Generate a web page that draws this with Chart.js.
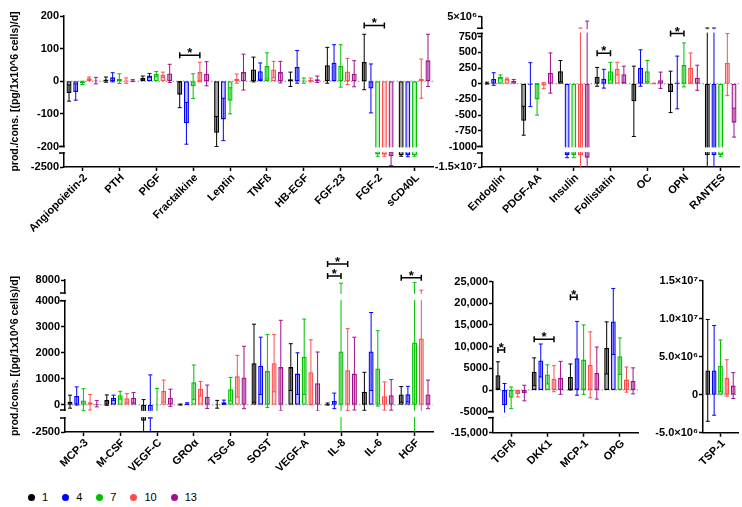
<!DOCTYPE html>
<html><head><meta charset="utf-8">
<script src="https://cdn.jsdelivr.net/npm/chart.js@4/dist/chart.umd.min.js"></script>
<style>
body{margin:0;background:#fff;width:742px;height:507px;position:relative;overflow:hidden;font-family:'Liberation Sans',Arial,sans-serif}
canvas{position:absolute}
#legend{position:absolute;left:28px;top:490px;height:14px;display:flex;align-items:center;font-size:11px;color:#000}
#legend .dot{width:7px;height:7px;border-radius:50%;display:inline-block;margin-right:7px}
#legend .txt{margin-right:14px}
</style></head><body>
<canvas id="tl"></canvas><canvas id="tr"></canvas>
<canvas id="bl"></canvas><canvas id="bm"></canvas><canvas id="br"></canvas>
<div id="legend"></div>
<script>
// ---------- DATA ----------
const seriesNames = ['1','4','7','10','13'];

// Top-left panel
const tlCategories = ['Angiopoietin-2','PTH','PlGF','Fractalkine','Leptin','TNFß','HB-EGF','FGF-23','FGF-2','sCD40L'];
const tlMean = [
  [-36, 5, 10, -41, -158, 36, 6, 49, 59, -2250],
  [-33, 12, 18, -129, -117, 31, 44, 57, -22, -2250],
  [-5, 8, 22, -15, -60, 47, 2, 47, -2230, -2250],
  [9, 2, 20, 28, 8, 36, 4, 30, -2240, 8],
  [2, 2, 24, 23, 28, 28, 6, 23, -2270, 64]
];
const tlSD = [
  [25, 8, 6, 40, 50, 38, 22, 55, 85, 20],
  [25, 14, 6, 64, 65, 25, 50, 55, 75, 30],
  [5, 15, 8, 38, 40, 40, 8, 65, 40, 20],
  [4, 8, 8, 30, 14, 25, 6, 40, 30, 60],
  [10, 3, 28, 37, 55, 33, 10, 40, 200, 80]
];
const tlTicks = [-2500, -200, -100, 0, 100, 200];
const tlTickLabels = ['-2500', '-200', '-100', '0', '100', '200'];
const tlBrackets = [{cat:3, a:0, b:3, v:80}, {cat:8, a:0, b:3, v:171}];

// Top-right panel
const trCategories = ['Endoglin','PDGF-AA','Insulin','Follistatin','OC','OPN','RANTES'];
const trMean = [
  [10, -590, 200, 110, -280, -130, -1.25e7],
  [75, -15, -1.25e7, 80, 250, 20, -1.25e7],
  [110, -250, -1.25e7, 200, 200, 300, -1.25e7],
  [75, -30, -1.25e7, 240, 5, 250, 330],
  [48, 170, -1.3e7, 150, 55, 95, -620]
];
const trSD = [
  [15, 230, 170, 150, 560, 330, 1.36e7],
  [100, 350, 5e5, 150, 290, 420, 1.36e7],
  [30, 250, 5e5, 140, 170, 350, 3e5],
  [15, 50, 1.36e7, 100, 5, 240, 520],
  [20, 320, 1.65e7, 130, 130, 200, 230]
];
const trTicks = [-1.5e7, -1000, -750, -500, -250, 0, 250, 500, 750, 5e6];
const trTickLabels = ['-1.5×10⁷','-1000','-750','-500','-250','0','250','500','750','5×10⁶'];
const trBrackets = [{cat:3, a:0, b:2, v:484}, {cat:5, a:0, b:2, v:800}];

// Bottom-left panel
const blCategories = ['MCP-3','M-CSF','VEGF-C','GROα','TSG-6','SOST','VEGF-A','IL-8','IL-6','HGF'];
const blMean = [
  [120, 180, -1700, 10, 20, 1600, 1450, 30, 500, 400],
  [340, 270, -1550, 50, 100, 1500, 1200, 150, 2050, 410],
  [170, 370, -20, 870, 600, 1300, 1850, 2050, 1400, 2400],
  [100, 250, 530, 620, 1100, 1600, 1250, 1330, 330, 2550],
  [40, 270, 270, 310, 1050, 1450, 830, 1200, 370, 400]
];
const blSD = [
  [250, 200, 1900, 20, 150, 1500, 900, 40, 750, 300],
  [350, 100, 2700, 30, 80, 1100, 800, 300, 1500, 300],
  [450, 150, 650, 660, 450, 1400, 1450, 5200, 1450, 5000],
  [300, 180, 420, 280, 800, 1100, 1250, 1600, 550, 3100],
  [120, 200, 330, 450, 1200, 1800, 1200, 1400, 600, 550]
];
const blTicks = [-2500, 0, 1000, 2000, 3000, 4000, 8000];
const blTickLabels = ['-2500','0','1000','2000','3000','4000','8000'];
const blBrackets = [{cat:7, a:0, b:3, v:11700}, {cat:7, a:0, b:2, v:8920}, {cat:9, a:0, b:3, v:8530}];

// Bottom-middle panel
const bmCategories = ['TGFß','DKK1','MCP-1','OPG'];
const bmMean = [
  [3400, 4200, 3000, 9700],
  [-3500, 6800, 7300, 15800],
  [-1800, 3600, 7000, 7800],
  [-900, 2600, 5800, 2400],
  [-700, 2800, 3900, 2100]
];
const bmSD = [
  [3100, 3200, 3000, 6000],
  [5000, 3800, 8500, 7600],
  [2500, 2200, 8000, 4200],
  [700, 3000, 7600, 2900],
  [1800, 3800, 6000, 3000]
];
const bmTicks = [-15000, -5000, 0, 5000, 10000, 15000, 20000, 25000];
const bmTickLabels = ['-15,000','-5000','0','5000','10,000','15,000','20,000','25,000'];
const bmBrackets = [{cat:0, a:0, b:1, v:9216}, {cat:1, a:0, b:3, v:11680}, {cat:2, a:0, b:1, v:21360}];

// Bottom-right panel
const brCategories = ['TSP-1'];
const brMean = [[3.2e6], [3.2e6], [3.8e6], [2.2e6], [1.2e6]];
const brSD = [[6.7e6], [5.9e6], [3.4e6], [2.4e6], [1.7e6]];
const brTicks = [-5e6, 0, 5e6, 1e7, 1.5e7];
const brTickLabels = ['-5.0×10⁶','0','5.0×10⁶','1.0×10⁷','1.5×10⁷'];
const brBrackets = [];

// ---------- STYLE / LAYOUT ----------
const seriesColors = ['#000000','#0000ff','#00c000','#ff4d4d','#a0108c'];
const seriesFills = ['rgba(0,0,0,0.35)','rgba(0,0,255,0.22)','rgba(0,192,0,0.22)','rgba(255,77,77,0.22)','rgba(160,16,140,0.22)'];
const FONT = "'Liberation Sans', Arial, sans-serif";
const yTitle = 'prod./cons. [(pg/1x10^6 cells)/d]';

Chart.defaults.font.family = FONT;
Chart.defaults.color = '#000';

// segments: [lowValue, pageY, highValue, pageY]
const panels = [
  {id:'tl', cats:tlCategories, mean:tlMean, sd:tlSD, ticks:tlTicks, labels:tlTickLabels, brackets:tlBrackets, title:true,
   canvas:{x:0,y:0,w:440,h:240}, area:{left:64,right:433,top:16,bottom:167},
   segs:[[-2500,167,-2200,153],[-200,146.5,200,16]]},
  {id:'tr', cats:trCategories, mean:trMean, sd:trSD, ticks:trTicks, labels:trTickLabels, brackets:trBrackets, title:false,
   canvas:{x:428,y:0,w:314,h:240}, area:{left:482,right:739,top:16.7,bottom:167},
   segs:[[-1.5e7,167,-1.2e7,153],[-1000,146.5,800,33.5],[1e6,28.3,5e6,16.7]]},
  {id:'bl', cats:blCategories, mean:blMean, sd:blSD, ticks:blTicks, labels:blTickLabels, brackets:blBrackets, title:true,
   canvas:{x:0,y:245,w:440,h:245}, area:{left:65,right:433,top:280,bottom:432},
   segs:[[-2500,432,-1500,418],[-200,410,4000,300.8],[5000,293,8000,280]]},
  {id:'bm', cats:bmCategories, mean:bmMean, sd:bmSD, ticks:bmTicks, labels:bmTickLabels, brackets:bmBrackets, title:false,
   canvas:{x:440,y:245,w:210,h:245}, area:{left:493,right:638,top:281.5,bottom:432.7},
   segs:[[-15000,432.7,-10000,417.7],[-5000,411.7,25000,281.5]]},
  {id:'br', cats:brCategories, mean:brMean, sd:brSD, ticks:brTicks, labels:brTickLabels, brackets:brBrackets, title:false,
   canvas:{x:645,y:245,w:97,h:245}, area:{left:703,right:738,top:280.7,bottom:432.7},
   segs:[[-5e6,432.7,1.5e7,280.7]]}
];

function valueToPageY(segs, v) {
  const n = segs.length;
  for (let k = 0; k < n; k++) {
    const [v0, y0, v1, y1] = segs[k];
    if (v <= v1 || k === n - 1) {
      if (v >= v0 || k === 0) return y0 + (v - v0) / (v1 - v0) * (y1 - y0);
      const [, , pv1, py1] = segs[k - 1];
      return py1 + (v - pv1) / (v0 - pv1) * (y0 - py1);
    }
  }
}

function makePanel(p) {
  const cv = document.getElementById(p.id);
  cv.width = p.canvas.w; cv.height = p.canvas.h;
  cv.style.left = p.canvas.x + 'px'; cv.style.top = p.canvas.y + 'px';
  const A = p.area;
  const H = A.bottom - A.top;
  const toD = v => A.bottom - valueToPageY(p.segs, v);

  const datasets = seriesNames.map((name, s) => ({
    label: name,
    data: p.mean[s].map(m => [toD(0), toD(m)]),
    backgroundColor: seriesFills[s],
    borderColor: seriesColors[s],
    borderWidth: 1.3,
    borderSkipped: false,
    categoryPercentage: 0.91,
    barPercentage: 0.75
  }));

  const plugin = {
    id: 'panelDeco_' + p.id,
    beforeDatasetsDraw(chart) {
      const ys = chart.scales.y, ca = chart.chartArea, ctx = chart.ctx;
      const y0 = ys.getPixelForValue(toD(0));
      ctx.save();
      ctx.strokeStyle = '#8a8a8a'; ctx.lineWidth = 1; ctx.setLineDash([1.5, 2]);
      ctx.beginPath(); ctx.moveTo(ca.left, y0); ctx.lineTo(ca.right, y0); ctx.stroke();
      ctx.restore();
    },
    afterDatasetsDraw(chart) {
      const ys = chart.scales.y, ca = chart.chartArea, ctx = chart.ctx;
      // error bars
      ctx.save();
      ctx.beginPath(); ctx.rect(ca.left, ca.top - 1, ca.right - ca.left, ca.bottom - ca.top + 1); ctx.clip();
      seriesNames.forEach((name, s) => {
        const meta = chart.getDatasetMeta(s);
        ctx.strokeStyle = seriesColors[s]; ctx.lineWidth = 1;
        meta.data.forEach((el, i) => {
          const m = p.mean[s][i], d = p.sd[s][i];
          const yHi = ys.getPixelForValue(toD(m + d));
          const yLo = ys.getPixelForValue(toD(m - d));
          ctx.beginPath();
          ctx.moveTo(el.x, yLo); ctx.lineTo(el.x, yHi);
          ctx.moveTo(el.x - 2, yHi); ctx.lineTo(el.x + 2, yHi);
          ctx.moveTo(el.x - 2, yLo); ctx.lineTo(el.x + 2, yLo);
          ctx.stroke();
        });
      });
      ctx.restore();
      // axis breaks
      ctx.save();
      for (let k = 0; k < p.segs.length - 1; k++) {
        const yA = ys.getPixelForValue(A.bottom - p.segs[k][3]);
        const yB = ys.getPixelForValue(A.bottom - p.segs[k + 1][1]);
        ctx.fillStyle = '#fff';
        ctx.fillRect(ca.left - 3, yB + 0.9, ca.right - ca.left + 5, yA - yB - 1.8);
        ctx.strokeStyle = '#000'; ctx.lineWidth = 1.5;
        ctx.beginPath();
        ctx.moveTo(ca.left - 5, yA); ctx.lineTo(ca.left + 0.75, yA);
        ctx.moveTo(ca.left - 5, yB); ctx.lineTo(ca.left + 0.75, yB);
        ctx.stroke();
      }
      ctx.restore();
      // significance brackets
      ctx.save();
      ctx.strokeStyle = '#000'; ctx.fillStyle = '#000'; ctx.lineWidth = 1.5;
      ctx.font = 'bold 13px ' + FONT; ctx.textAlign = 'center'; ctx.textBaseline = 'alphabetic';
      p.brackets.forEach(b => {
        const xa = chart.getDatasetMeta(b.a).data[b.cat].x;
        const xb = chart.getDatasetMeta(b.b).data[b.cat].x;
        const y = ys.getPixelForValue(toD(b.v));
        ctx.beginPath();
        ctx.moveTo(xa, y); ctx.lineTo(xb, y);
        ctx.moveTo(xa, y - 3); ctx.lineTo(xa, y + 3);
        ctx.moveTo(xb, y - 3); ctx.lineTo(xb, y + 3);
        ctx.stroke();
        ctx.fillText('*', (xa + xb) / 2, y + 2);
      });
      ctx.restore();
    },
    afterDraw(chart) {
      // category labels, rotated 45 degrees, anchored at each x tick
      const xs = chart.scales.x, ca = chart.chartArea, ctx = chart.ctx;
      ctx.save();
      ctx.fillStyle = '#000';
      ctx.font = 'bold 11px ' + FONT;
      ctx.textAlign = 'right'; ctx.textBaseline = 'middle';
      p.cats.forEach((c, i) => {
        const x = xs.getPixelForTick(i);
        ctx.save();
        ctx.translate(x + 3, ca.bottom + 9);
        ctx.rotate(-Math.PI / 4);
        ctx.fillText(c, 0, 0);
        ctx.restore();
      });
      ctx.restore();
    }
  };

  new Chart(cv, {
    type: 'bar',
    data: { labels: p.cats, datasets },
    options: {
      responsive: false, animation: false, devicePixelRatio: 1,
      layout: { padding: { left: 0, top: A.top - p.canvas.y, right: p.canvas.x + p.canvas.w - A.right, bottom: 0 } },
      plugins: { legend: { display: false }, tooltip: { enabled: false } },
      scales: {
        x: {
          offset: true,
          grid: { display: true, drawOnChartArea: false, offset: false, tickLength: 4, tickColor: '#000', tickWidth: 1.5 },
          border: { display: true, color: '#000', width: 1.5 },
          ticks: { display: false, autoSkip: false },
          afterFit: s => { s.height = p.canvas.y + p.canvas.h - A.bottom; s.paddingLeft = 0; s.paddingRight = 0; }
        },
        y: {
          min: 0, max: H,
          afterBuildTicks: s => { s.ticks = p.ticks.map(v => ({ value: toD(v) })); },
          grid: { display: true, drawOnChartArea: false, tickLength: 4, tickColor: '#000', tickWidth: 1.5 },
          border: { display: true, color: '#000', width: 1.5 },
          ticks: { color: '#000', autoSkip: false, padding: 1, font: { size: 11, weight: 'bold' }, callback: (v, i) => p.labels[i] },
          title: { display: p.title, text: yTitle, color: '#000', font: { size: 10.5, weight: 'bold' }, padding: { top: 9, bottom: 0 } },
          afterFit: s => { s.width = A.left - p.canvas.x; }
        }
      }
    },
    plugins: [plugin]
  });
}

panels.forEach(makePanel);

// legend
const lg = document.getElementById('legend');
seriesNames.forEach((name, s) => {
  const d = document.createElement('span'); d.className = 'dot'; d.style.background = seriesColors[s];
  const t = document.createElement('span'); t.className = 'txt'; t.textContent = name;
  lg.appendChild(d); lg.appendChild(t);
});
</script>
</body></html>
